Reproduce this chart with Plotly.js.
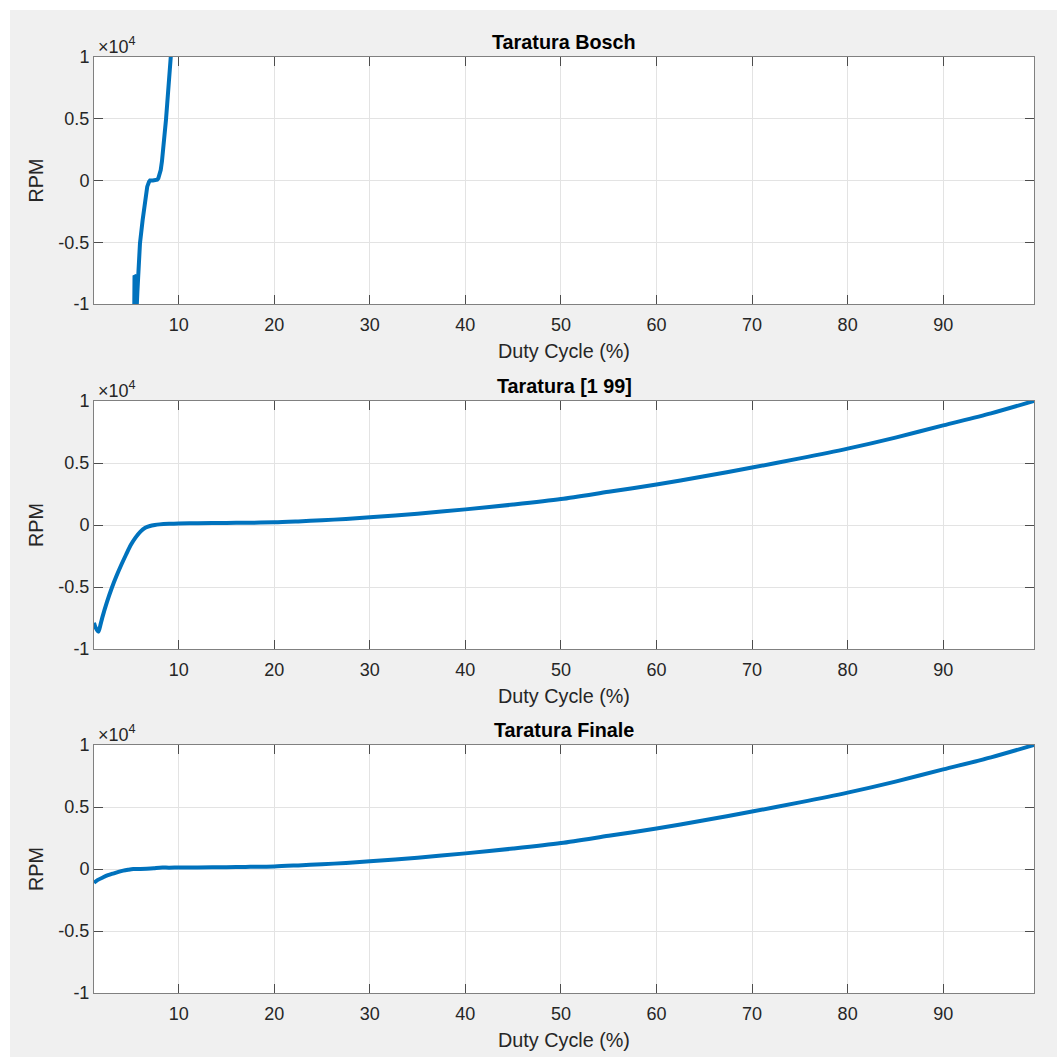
<!DOCTYPE html>
<html>
<head>
<meta charset="utf-8">
<script src="https://cdn.plot.ly/plotly-3.0.1.min.js"></script>
<style>
html,body{margin:0;padding:0;background:#ffffff;}
#chart{position:absolute;left:10px;top:10px;width:1047px;height:1047px;}
</style>
</head>
<body>
<div id="chart"></div>
<script>
// ---- Data ----
var titles = ["Taratura Bosch", "Taratura [1 99]", "Taratura Finale"];
var xTickVals = [10, 20, 30, 40, 50, 60, 70, 80, 90];
var yTickVals = [-10000, -5000, 0, 5000, 10000];
var yTickText = ["-1", "-0.5", "0", "0.5", "1"];

var boschX = [5.35, 5.38, 5.42, 5.46, 5.5, 5.54, 5.6, 5.68, 5.77, 5.95, 6.23, 6.47, 6.71, 6.9, 7.0, 7.3, 7.52, 7.75, 7.87, 8.0, 8.12, 8.25, 8.39, 8.53, 8.67, 8.8, 8.92, 9.04, 9.16, 9.3];
var boschY = [-10600, -7700, -10600, -7750, -10600, -7800, -10400, -9000, -7650, -5090, -3200, -1850, -500, -100, 0, 0, 0, 60, 180, 450, 850, 1550, 2470, 3600, 4900, 6200, 7600, 8800, 10000, 11300];

var fullX = [1.14, 1.3, 1.6, 1.8, 2.0, 2.5, 3.0, 3.5, 4.0, 4.5, 5.0, 5.5, 6.0, 6.5, 7.0, 7.5, 8.0, 9.0, 10, 12, 15, 17, 20, 22.5, 25, 27.5, 30, 35, 40, 45, 50, 55, 60, 65, 70, 75, 80, 85, 90, 95, 99.5];
var fullY = [-7880, -8250, -8600, -8100, -7490, -6200, -5080, -4100, -3210, -2380, -1600, -1000, -530, -230, -80, 0, 50, 100, 130, 150, 170, 180, 215, 290, 380, 490, 615, 910, 1260, 1650, 2090, 2680, 3270, 3930, 4630, 5370, 6160, 7050, 8030, 9000, 10000];

var finaleX = [1.14, 1.5, 2.1, 2.6, 3.2, 3.7, 4.2, 4.7, 5.25, 6.0, 6.65, 7.4, 8.0, 9.0, 10, 12, 15, 17, 20, 22.5, 25, 27.5, 30, 35, 40, 45, 50, 55, 60, 65, 70, 75, 80, 85, 90, 95, 99.5];
var finaleY = [-1100, -900, -670, -500, -350, -230, -130, -60, 0, 10, 25, 60, 110, 110, 115, 125, 150, 170, 210, 290, 380, 490, 615, 910, 1260, 1650, 2090, 2680, 3270, 3930, 4630, 5370, 6160, 7050, 8030, 9000, 10000];

// ---- Layout helpers ----
var W = 1047;
var xDom = [84 / W, 1024 / W];
var plotTops = [47, 391, 735];
var plotBottoms = [294, 639, 983];
var lineColor = "#0072BD";
var textColor = "#262626";
var fontFam = "Liberation Sans, Arial, Helvetica, sans-serif";

var series = [[boschX, boschY, "linear"], [fullX, fullY, "spline"], [finaleX, finaleY, "spline"]];
var traces = [];
var layout = {
  width: W, height: W,
  margin: {l: 0, r: 0, t: 0, b: 0},
  paper_bgcolor: "#f0f0f0",
  plot_bgcolor: "#ffffff",
  showlegend: false,
  font: {family: fontFam, size: 18, color: textColor},
  annotations: []
};

for (var i = 0; i < 3; i++) {
  var sfx = i === 0 ? "" : String(i + 1);
  traces.push({
    x: series[i][0], y: series[i][1],
    xaxis: "x" + sfx, yaxis: "y" + sfx,
    type: "scatter", mode: "lines",
    line: {color: lineColor, width: 4, shape: series[i][2], smoothing: 0.8},
    hoverinfo: "x+y"
  });
  var yDom = [1 - plotBottoms[i] / W, 1 - plotTops[i] / W];
  var common = {
    showline: true, linecolor: "#808080", linewidth: 1, mirror: "ticks",
    ticks: "inside", ticklen: 9, tickcolor: "#4d4d4d", tickwidth: 1,
    showgrid: true, gridcolor: "#e3e3e3", gridwidth: 1,
    zeroline: false, automargin: false,
    tickfont: {family: fontFam, size: 18, color: textColor}
  };
  layout["xaxis" + sfx] = Object.assign({}, common, {
    domain: xDom, range: [1.14, 99.5], anchor: "y" + sfx,
    tickmode: "array", tickvals: xTickVals,
    ticklabelstandoff: 4,
    title: {text: "Duty Cycle (%)", font: {family: fontFam, size: 19.8, color: textColor}, standoff: 10}
  });
  layout["yaxis" + sfx] = Object.assign({}, common, {
    domain: yDom, range: [-10000, 10000], anchor: "x" + sfx,
    tickmode: "array", tickvals: yTickVals, ticktext: yTickText,
    title: {text: "RPM", font: {family: fontFam, size: 19.8, color: textColor}, standoff: 9}
  });
  layout.annotations.push({
    xref: "paper", yref: "paper",
    x: (84 + 1024) / 2 / W, y: 1 - (plotTops[i] - 15) / W,
    xanchor: "center", yanchor: "middle",
    text: "<b>" + titles[i] + "</b>", showarrow: false,
    font: {family: fontFam, size: 19.8, color: "#000000"}
  });
  layout.annotations.push({
    xref: "paper", yref: "paper",
    x: 86 / W, y: 1 - (plotTops[i] - 12) / W,
    xanchor: "left", yanchor: "middle",
    text: "\u00d710<sup>4</sup>", showarrow: false,
    font: {family: fontFam, size: 18, color: textColor}
  });
}

Plotly.newPlot("chart", traces, layout, {displayModeBar: false, staticPlot: true});
</script>
</body>
</html>
